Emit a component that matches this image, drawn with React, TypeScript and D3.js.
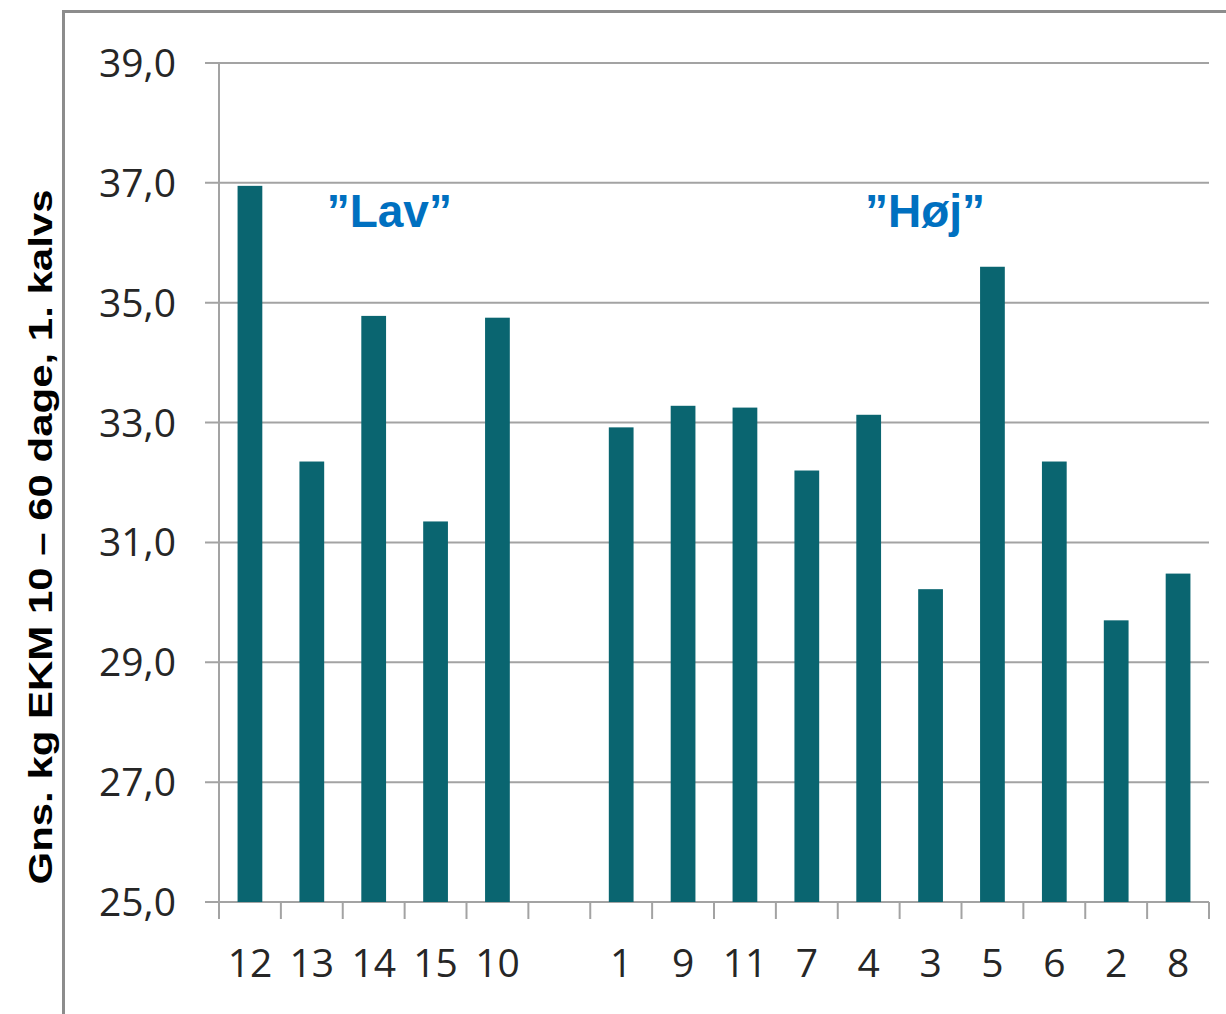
import React from "react";
import * as d3 from "d3";

const categories = ["12", "13", "14", "15", "10", "", "1", "9", "11", "7", "4", "3", "5", "6", "2", "8"];
const values: (number | null)[] = [36.95, 32.35, 34.78, 31.35, 34.75, null, 32.92, 33.28, 33.25, 32.2, 33.13, 30.22, 35.6, 32.35, 29.7, 30.48];
const yTicks = [25, 27, 29, 31, 33, 35, 37, 39];
const yTitle = "Gns. kg EKM 10 – 60 dage, 1. kalvs";
const groupLabels = [
  { text: "”Lav”", at: 1.74 },
  { text: "”Høj”", at: 10.44 },
];

const W = 1226;
const H = 1014;
const left = 219;
const right = 1209;
const top = 63;
const bottom = 902;

export default function App() {
  const keys = categories.map((c, i) => `${i}:${c}`);
  const x = d3.scaleBand<string>().domain(keys).range([left, right]).paddingInner(0.6).paddingOuter(0.3);
  const y = d3.scaleLinear().domain([25, 39]).range([bottom, top]);
  const step = x.step();
  const tickXs = d3.range(categories.length + 1).map((i) => left + i * step);
  const grid = "#a3a3a3";
  const bar = "#0a6570";
  const labelFont = "'Open Sans', sans-serif";

  return (
    <svg width={W} height={H} style={{ position: "absolute", left: 0, top: 0, background: "#fff" }}>
      <rect x={0} y={0} width={W} height={H} fill="#fff" />
      {/* outer frame */}
      <path d={`M63.5,${H + 5} V11.5 H${W + 5}`} fill="none" stroke="#8c8c8c" strokeWidth={3} />
      {/* gridlines and y ticks */}
      {yTicks.map((t) => (
        <g key={t}>
          <line x1={205} x2={right} y1={y(t)} y2={y(t)} stroke={grid} strokeWidth={2} />
          <text
            x={176}
            y={y(t) + 14}
            textAnchor="end"
            fontFamily={labelFont}
            fontSize={39}
            fill="#262626"
          >
            {t.toFixed(1).replace(".", ",")}
          </text>
        </g>
      ))}
      {/* y axis */}
      <line x1={left} x2={left} y1={top} y2={bottom} stroke={grid} strokeWidth={2} />
      {/* x ticks */}
      {tickXs.map((tx, i) => (
        <line key={i} x1={tx} x2={tx} y1={bottom} y2={bottom + 17} stroke={grid} strokeWidth={2} />
      ))}
      {/* bars */}
      {values.map((v, i) =>
        v == null ? null : (
          <rect
            key={keys[i]}
            x={x(keys[i])}
            y={y(v)}
            width={x.bandwidth()}
            height={y(25) - y(v)}
            fill={bar}
          />
        )
      )}
      {/* x labels */}
      {categories.map((c, i) => (
        <text
          key={keys[i]}
          x={(x(keys[i]) as number) + x.bandwidth() / 2}
          y={977}
          textAnchor="middle"
          fontFamily={labelFont}
          fontSize={39}
          fill="#262626"
        >
          {c}
        </text>
      ))}
      {/* group labels */}
      {groupLabels.map((g) => (
        <text
          key={g.text}
          x={left + g.at * step}
          y={227}
          textAnchor="start"
          fontFamily="'Liberation Sans', Arial, sans-serif"
          fontWeight="bold"
          fontSize={46}
          fill="#0070c0"
        >
          {g.text}
        </text>
      ))}
      {/* y title */}
      <text
        transform={`translate(52,537) rotate(-90)`}
        textAnchor="middle"
        fontFamily="'Liberation Sans', Arial, sans-serif"
        fontWeight="bold"
        fontSize={34}
        textLength={695}
        lengthAdjust="spacingAndGlyphs"
        fill="#000"
      >
        {yTitle}
      </text>
    </svg>
  );
}
